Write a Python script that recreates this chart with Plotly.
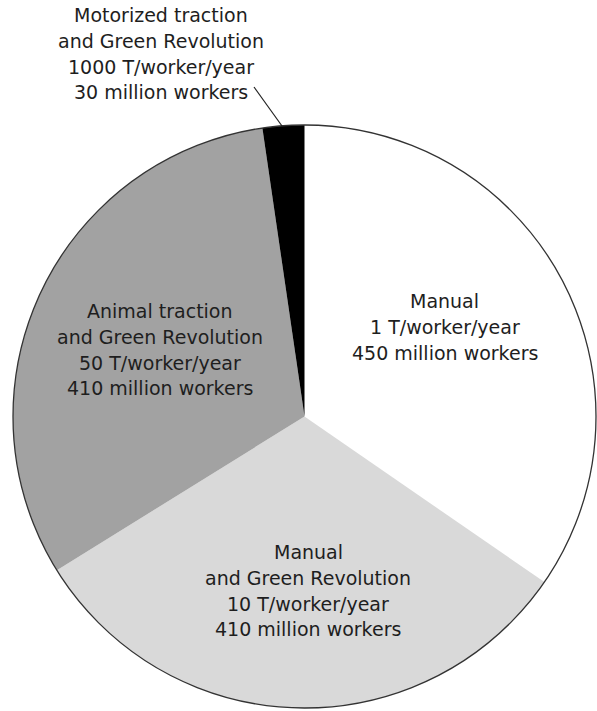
import plotly.graph_objects as go

# ---- data ----
categories = ["Manual", "Manual and Green Revolution",
              "Animal traction and Green Revolution",
              "Motorized traction and Green Revolution"]
label_heads = [["Manual"],
               ["Manual", "and Green Revolution"],
               ["Animal traction", "and Green Revolution"],
               ["Motorized traction", "and Green Revolution"]]
tonnes_per_worker = [1, 10, 50, 1000]
workers_millions = [450, 410, 410, 30]
colors = ["#ffffff", "#d9d9d9", "#a2a2a2", "#000000"]

W, H = 597, 711
cx, cy, r = 304.5, 416.5, 291.5

fig = go.Figure(go.Pie(
    labels=categories, values=workers_millions, sort=False,
    direction="clockwise", rotation=0, textinfo="none", hoverinfo="label+value",
    marker=dict(colors=colors, line=dict(width=0)),
    domain=dict(x=[(cx - r) / W, (cx + r) / W], y=[1 - (cy + r) / H, 1 - (cy - r) / H]),
    showlegend=False,
))

# outer outline
fig.add_shape(type="circle", xref="paper", yref="paper",
              x0=(cx - r) / W, x1=(cx + r) / W, y0=1 - (cy + r) / H, y1=1 - (cy - r) / H,
              line=dict(color="#333333", width=1.3))

# label block positions (pixel centers of first line) and line spacing
label_pos = [(444.5, 301), (308, 552), (160, 311), (161, 15)]
line_gap = 25.8
font = dict(family="DejaVu Sans", size=19, color="#1e1e1e")
for heads, t, w, (lx, ly) in zip(label_heads, tonnes_per_worker, workers_millions, label_pos):
    lines = heads + [f"{t} T/worker/year", f"{w} million workers"]
    for i, ln in enumerate(lines):
        fig.add_annotation(text=ln, xref="paper", yref="paper",
                           x=lx / W, y=1 - (ly + i * line_gap) / H,
                           xanchor="center", yanchor="middle",
                           showarrow=False, font=font)

# leader line for the small slice
fig.add_shape(type="line", xref="paper", yref="paper",
              x0=254 / W, y0=1 - 87 / H, x1=282 / W, y1=1 - 126 / H,
              line=dict(color="#222222", width=1.2))

fig.update_layout(width=W, height=H, margin=dict(l=0, r=0, t=0, b=0),
                  paper_bgcolor="white", plot_bgcolor="white")
fig.write_html("out.html", config={"displayModeBar": False},
               post_script="document.body.style.margin='0';document.body.style.overflow='hidden';")
